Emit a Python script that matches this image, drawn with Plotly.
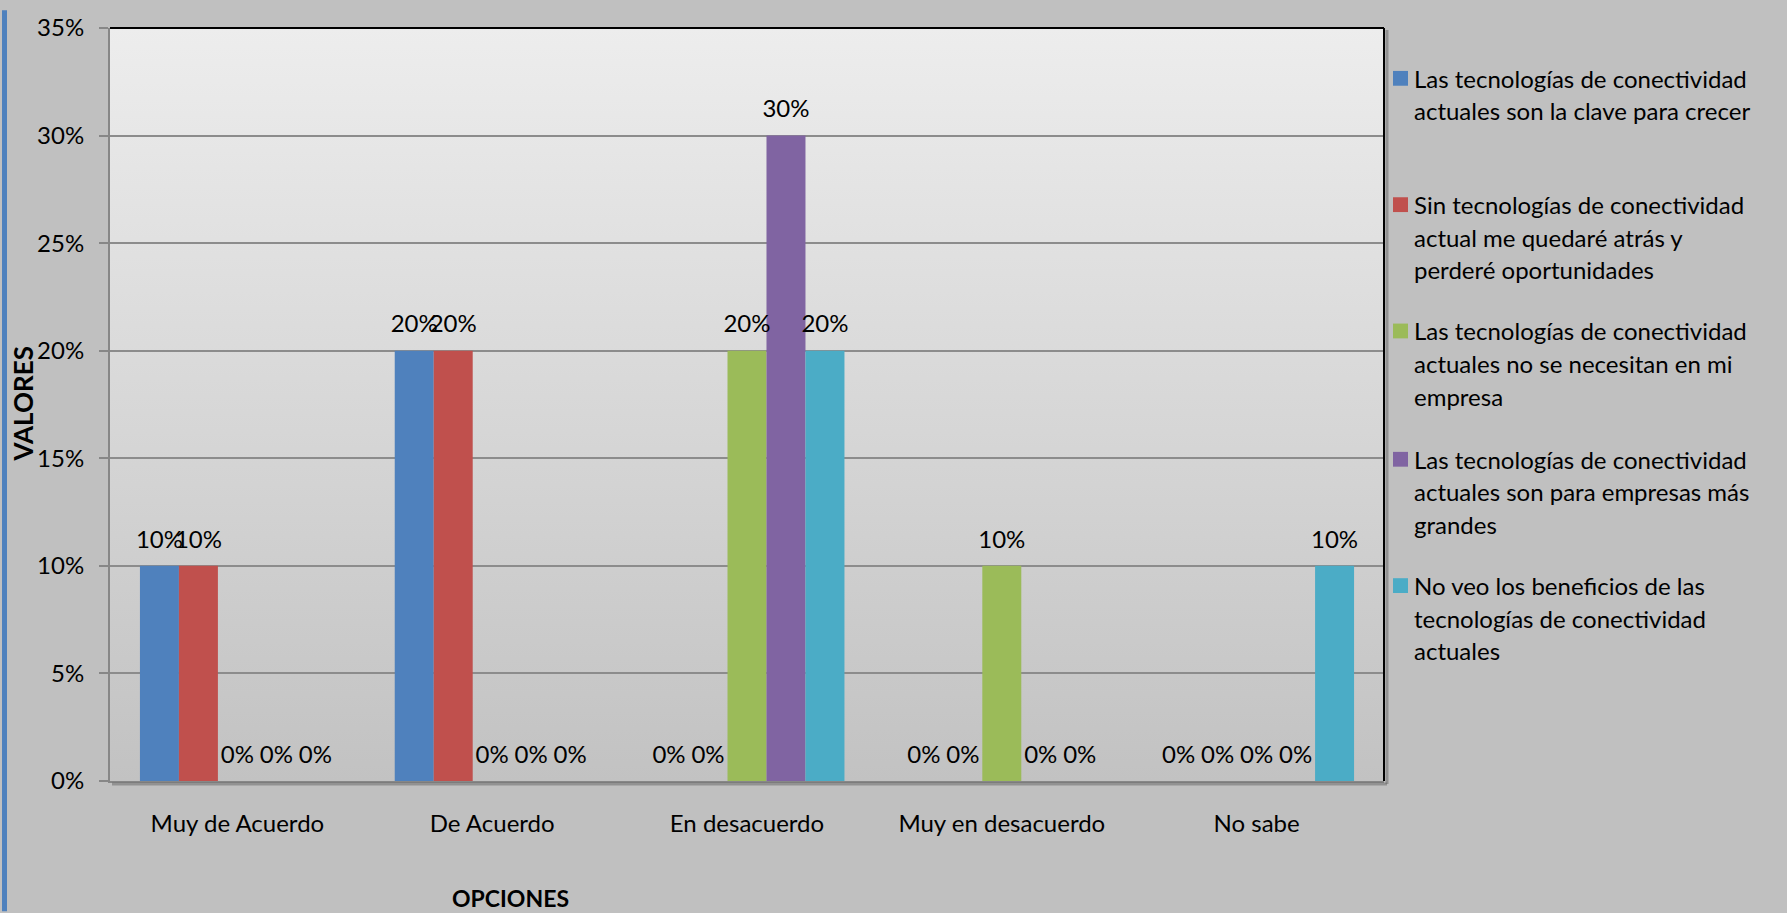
import base64
import plotly.graph_objects as go

# ---------------- data ----------------
categories = ["Muy de Acuerdo", "De Acuerdo", "En desacuerdo", "Muy en desacuerdo", "No sabe"]
series_names = [
    "Las tecnologías de conectividad actuales son la clave para crecer",
    "Sin tecnologías de conectividad actual me quedaré atrás y perderé oportunidades",
    "Las tecnologías de conectividad actuales no se necesitan en mi empresa",
    "Las tecnologías de conectividad actuales son para empresas más grandes",
    "No veo los beneficios de las tecnologías de conectividad actuales",
]
legend_lines = [
    ["Las tecnologías de conectividad", "actuales son la clave para crecer"],
    ["Sin tecnologías de conectividad", "actual me quedaré atrás y", "perderé oportunidades"],
    ["Las tecnologías de conectividad", "actuales no se necesitan en mi", "empresa"],
    ["Las tecnologías de conectividad", "actuales son para empresas más", "grandes"],
    ["No veo los beneficios de las", "tecnologías de conectividad", "actuales"],
]
clave_crecer = [0.10, 0.20, 0.00, 0.00, 0.00]
quedare_atras = [0.10, 0.20, 0.00, 0.00, 0.00]
no_se_necesitan = [0.00, 0.00, 0.20, 0.10, 0.00]
empresas_grandes = [0.00, 0.00, 0.30, 0.00, 0.00]
no_veo_beneficios = [0.00, 0.00, 0.20, 0.00, 0.10]
values = [clave_crecer, quedare_atras, no_se_necesitan, empresas_grandes, no_veo_beneficios]
colors = ["#4F81BD", "#C0504D", "#9BBB59", "#8064A2", "#4BACC6"]
y_ticks = [0, 0.05, 0.10, 0.15, 0.20, 0.25, 0.30, 0.35]

# ---------------- layout constants ----------------
W, H = 1787, 913
ML, MR, MT, MB = 110, 403, 18, 132
PW, PH = W - ML - MR, H - MT - MB
FONT = "Lato, Carlito, Calibri, sans-serif"
FS = 24
BARGAP = 0.235


def px_x(x):
    return (x - ML) / PW


def px_y(y):
    return 1 - (y - MT) / PH


fig = go.Figure()
for name, vals, col in zip(series_names, values, colors):
    fig.add_trace(go.Bar(
        x=categories, y=vals, name=name,
        marker=dict(color=col, line=dict(width=0)),
        showlegend=False, hoverinfo="skip",
    ))
# value labels, grouped like the bars
for name, vals in zip(series_names, values):
    fig.add_trace(go.Scatter(
        x=categories, y=vals, name=name, mode="markers+text",
        marker=dict(size=18, opacity=0, color="rgba(0,0,0,0)"),
        text=[f"{v:.0%}" for v in vals], textposition="top center",
        textfont=dict(family=FONT, size=FS, color="#000000"),
        cliponaxis=False, showlegend=False,
    ))

# gradient background for plot area
svg = ('<svg xmlns="http://www.w3.org/2000/svg" width="100" height="100" preserveAspectRatio="none">'
       '<defs><linearGradient id="g" x1="0" y1="0" x2="0" y2="1">'
       '<stop offset="0" stop-color="#EDEDED"/><stop offset="1" stop-color="#C2C2C2"/>'
       '</linearGradient></defs><rect width="100" height="100" fill="url(#g)"/></svg>')
src = "data:image/svg+xml;base64," + base64.b64encode(svg.encode()).decode()

shapes = [
    # left blue border of the slide
    dict(type="rect", xref="paper", yref="paper", x0=px_x(2), x1=px_x(7), y0=px_y(H), y1=px_y(0),
         fillcolor="#4F81BD", line=dict(width=0), layer="below"),
    # shadow of plot area
    dict(type="line", xref="paper", yref="paper", x0=px_x(112), x1=px_x(1387), y0=px_y(784), y1=px_y(784),
         line=dict(color="rgba(90,90,90,0.45)", width=3)),
    dict(type="line", xref="paper", yref="paper", x0=px_x(1387), x1=px_x(1387), y0=px_y(20), y1=px_y(784),
         line=dict(color="rgba(90,90,90,0.45)", width=3)),
    # top and right border (black)
    dict(type="line", xref="paper", yref="paper", x0=0, x1=1, y0=1, y1=1, line=dict(color="#000000", width=2)),
    dict(type="line", xref="paper", yref="paper", x0=1, x1=1, y0=0, y1=1, line=dict(color="#000000", width=2)),
]

annotations = [
    dict(text="<b>VALORES</b>", xref="paper", yref="paper", x=px_x(22), y=0.5, textangle=-90,
         showarrow=False, font=dict(family=FONT, size=26, color="#000000"), xanchor="center", yanchor="middle"),
    dict(text="<b>OPCIONES</b>", xref="paper", yref="paper", x=px_x(510), y=px_y(900),
         showarrow=False, font=dict(family=FONT, size=23, color="#000000"), xanchor="center", yanchor="middle"),
]

# manual legend (Excel-style uniform spacing)
item_top = [69, 197, 325, 455, 583]
line_gap = 33
for lines, col, y0 in zip(legend_lines, colors, item_top):
    shapes.append(dict(type="rect", xref="paper", yref="paper",
                       x0=px_x(1393), x1=px_x(1408), y0=px_y(y0 + 7.5), y1=px_y(y0 - 7.5),
                       fillcolor=col, line=dict(width=0)))
    for i, ln in enumerate(lines):
        annotations.append(dict(text=ln, xref="paper", yref="paper", x=px_x(1412), y=px_y(y0 + i * line_gap),
                                xanchor="left", yanchor="middle", showarrow=False,
                                font=dict(family=FONT, size=FS, color="#000000")))

fig.update_layout(
    width=W, height=H,
    margin=dict(l=ML, r=MR, t=MT, b=MB, pad=0),
    paper_bgcolor="#C0C0C0", plot_bgcolor="#D8D8D8",
    barmode="group", bargap=BARGAP, bargroupgap=0,
    scattermode="group", scattergap=BARGAP,
    font=dict(family=FONT, size=FS, color="#000000"),
    shapes=shapes, annotations=annotations,
    images=[dict(source=src, xref="paper", yref="paper", x=0, y=1, sizex=1, sizey=1,
                 xanchor="left", yanchor="top", sizing="stretch", layer="below")],
    xaxis=dict(showgrid=False, showline=True, linecolor="#878787", linewidth=2, ticks="",
               tickfont=dict(family=FONT, size=FS, color="#000000"), ticklabelstandoff=20, fixedrange=True),
    yaxis=dict(range=[0, 0.35], tickvals=y_ticks, tickformat=".0%", showgrid=True, gridcolor="#8C8C8C",
               gridwidth=2, showline=True, linecolor="#878787", linewidth=2, ticks="outside", ticklen=9,
               tickcolor="#878787", tickwidth=2, ticklabelstandoff=10, zeroline=False,
               tickfont=dict(family=FONT, size=FS, color="#000000"), fixedrange=True),
    showlegend=False,
)

fig.write_html("out.html", config={"displayModeBar": False},
               post_script="document.body.style.margin='0';document.body.style.overflow='hidden';")
